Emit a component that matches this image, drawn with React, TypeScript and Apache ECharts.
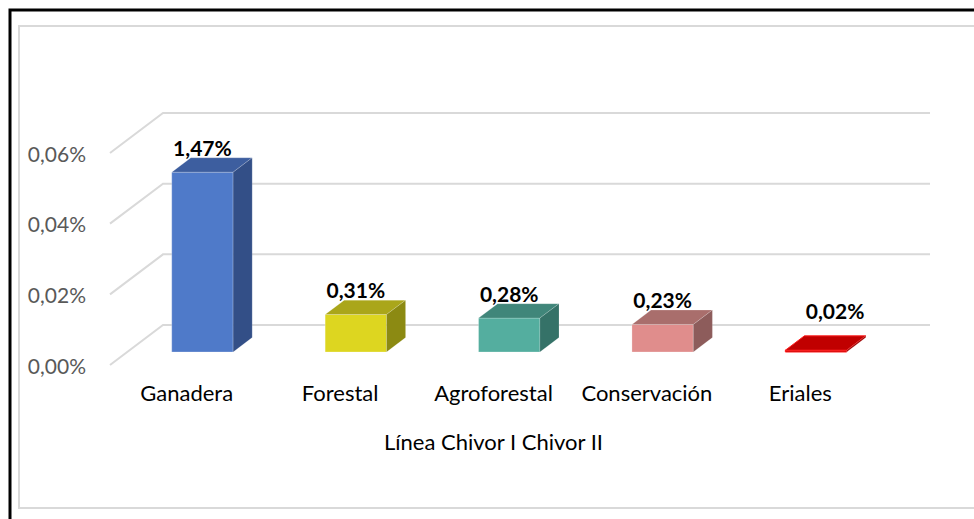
import React, { useEffect, useRef } from "react";
import * as echarts from "echarts";

const categories = ["Ganadera", "Forestal", "Agroforestal", "Conservación", "Eriales"];
const values = [0.0509, 0.0106, 0.0096, 0.0078, 0.0005];
const dataLabels = ["1,47%", "0,31%", "0,28%", "0,23%", "0,02%"];
const yTicks = [0, 0.02, 0.04, 0.06];
const axisTitle = "Línea Chivor I Chivor II";

const frontColors = ["#4f7ac9", "#ddd620", "#54ae9f", "#e08d8c", "#c00000"];
const topColors = ["#3d5e9f", "#aaa61a", "#40867a", "#a96e6c", "#c00000"];
const sideColors = ["#334f87", "#8c8a12", "#357268", "#8d5c5b", "#a00000"];

const DX = 53;
const DY = -40;
const F0 = 0.325;
const F1 = 0.685;
const BAR_SHIFT_X = -1.5;
const FONT = "Lato, 'Open Sans', sans-serif";

export default function App() {
  const ref = useRef<HTMLDivElement>(null);
  useEffect(() => {
    if (!ref.current) return;
    const chart = echarts.init(ref.current, null, { renderer: "svg" });
    const option: any = {
      animation: false,
      backgroundColor: "#ffffff",
      grid: { left: 110, right: 97, top: 153, bottom: 154 },
      xAxis: {
        type: "category",
        data: categories,
        axisLine: { show: false },
        axisTick: { show: false },
        axisLabel: { color: "#000000", fontSize: 22, fontFamily: FONT, margin: 16, interval: 0 },
        name: axisTitle,
        nameLocation: "middle",
        nameGap: 65,
        nameTextStyle: { color: "#000000", fontSize: 22, fontFamily: FONT },
      },
      yAxis: {
        type: "value",
        min: 0,
        max: 0.06,
        interval: 0.02,
        axisLine: { show: false },
        axisTick: { show: false },
        splitLine: { show: false },
        axisLabel: {
          color: "#595959",
          fontSize: 21,
          fontFamily: FONT,
          margin: 24,
          formatter: (v: number) => v.toFixed(2).replace(".", ",") + "%",
        },
      },
      graphic: [
        {
          type: "polyline",
          shape: { points: [[10, 519], [10, 10], [980, 10]] },
          style: { stroke: "#000000", lineWidth: 3, fill: "none" },
        },
        {
          type: "rect",
          shape: { x: 19, y: 26, width: 965, height: 482 },
          style: { stroke: "#d9d9d9", lineWidth: 2, fill: "none" },
        },
      ],
      series: [
        {
          type: "custom",
          z: 1,
          data: yTicks.map((v) => [0, v]),
          encode: { x: 0, y: 1 },
          renderItem: (params: any, api: any) => {
            const cs = params.coordSys;
            const y = api.coord([0, api.value(1)])[1];
            return {
              type: "polyline",
              shape: {
                points: [
                  [cs.x, y],
                  [cs.x + DX, y + DY],
                  [cs.x + cs.width + DX, y + DY],
                ],
              },
              style: { stroke: "#d9d9d9", lineWidth: 2, fill: "none" },
            };
          },
        },
        {
          type: "custom",
          z: 2,
          data: values.map((v, i) => [i, v]),
          encode: { x: 0, y: 1 },
          renderItem: (params: any, api: any) => {
            const i = api.value(0);
            const v = api.value(1);
            const base = api.coord([i, 0]);
            const top = api.coord([i, v]);
            const band = api.size([1, 0])[0];
            const w = band * 0.4;
            const fx = base[0] + F0 * DX - w / 2 + BAR_SHIFT_X;
            const fyBase = base[1] + F0 * DY;
            const fyTop = top[1] + F0 * DY;
            const ddx = (F1 - F0) * DX;
            const ddy = (F1 - F0) * DY;
            const small = i === 4;
            const lx = fx + w / 2 + (small ? 19 : 0);
            const ly = fyTop - 25 - (small ? 15 : 0);
            return {
              type: "group",
              children: [
                {
                  type: "rect",
                  shape: { x: fx, y: fyTop, width: w, height: Math.max(fyBase - fyTop, 0.5) },
                  style: { fill: frontColors[i], stroke: small ? "#ff2020" : "rgba(255,255,255,0.25)", lineWidth: 1 },
                },
                {
                  type: "polygon",
                  shape: {
                    points: [
                      [fx, fyTop],
                      [fx + w, fyTop],
                      [fx + w + ddx, fyTop + ddy],
                      [fx + ddx, fyTop + ddy],
                    ],
                  },
                  style: { fill: topColors[i], stroke: small ? "#ff2020" : "rgba(255,255,255,0.2)", lineWidth: 1 },
                },
                {
                  type: "polygon",
                  shape: {
                    points: [
                      [fx + w, fyTop],
                      [fx + w + ddx, fyTop + ddy],
                      [fx + w + ddx, fyBase + ddy],
                      [fx + w, fyBase],
                    ],
                  },
                  style: { fill: sideColors[i], stroke: "rgba(255,255,255,0.15)", lineWidth: 1 },
                },
                {
                  type: "text",
                  x: lx,
                  y: ly,
                  style: {
                    text: dataLabels[i],
                    fill: "#000000",
                    font: `bold 21px ${FONT}`,
                    align: "center",
                    verticalAlign: "middle",
                  },
                },
              ],
            };
          },
        },
      ],
    };
    chart.setOption(option);
    return () => chart.dispose();
  }, []);
  return (
    <div
      ref={ref}
      style={{ position: "fixed", left: 0, top: 0, width: 974, height: 519 }}
    />
  );
}
